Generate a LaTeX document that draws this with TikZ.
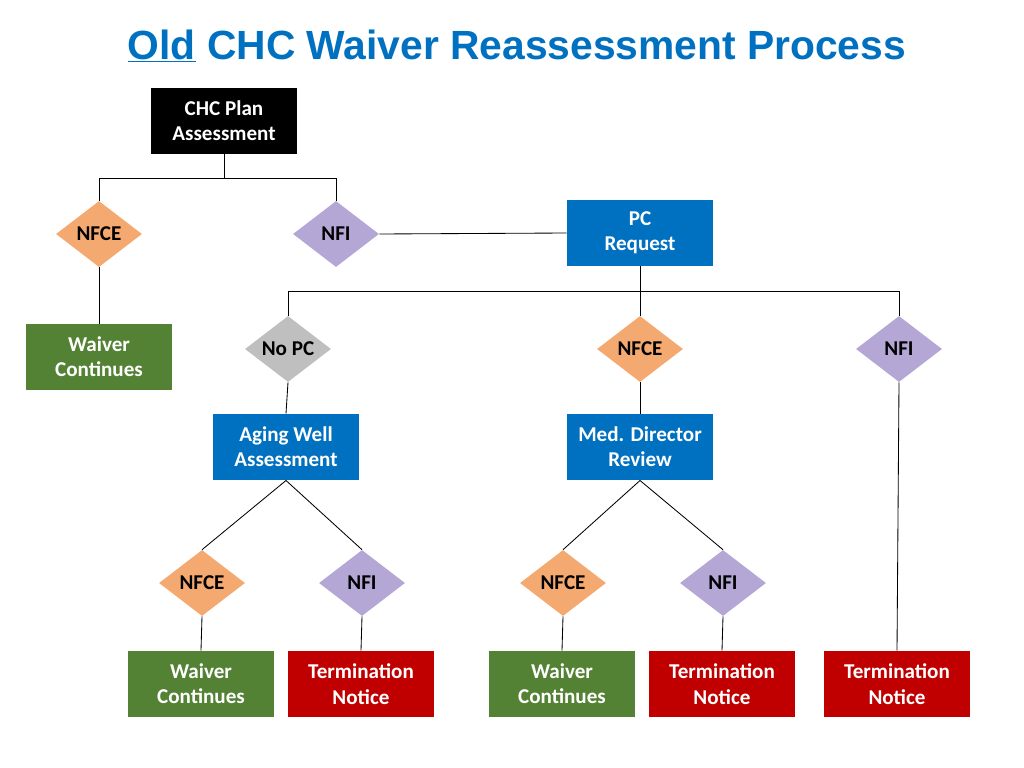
\documentclass[tikz,border=0pt]{standalone}
\usepackage{fontspec}
\setmainfont{Carlito}
\newfontfamily\titlefont{Liberation Sans}
\usetikzlibrary{shapes.geometric}
\definecolor{titleblue}{RGB}{0,112,192}
\definecolor{boxblue}{RGB}{0,112,192}
\definecolor{boxgreen}{RGB}{84,130,53}
\definecolor{boxred}{RGB}{192,0,0}
\definecolor{dorange}{RGB}{244,169,113}
\definecolor{dpurple}{RGB}{180,167,214}
\definecolor{dgray}{RGB}{191,191,191}
\tikzstyle{box}=[rectangle,minimum width=3.65cm,minimum height=1.66cm,inner sep=0pt,align=center,text=white,font=\fontsize{15}{18}\selectfont\bfseries]
\tikzstyle{choice}=[diamond,minimum width=2.15cm,minimum height=1.65cm,inner sep=0pt,aspect=1.3,font=\fontsize{15}{18}\selectfont\bfseries]
\tikzstyle{edge}=[draw,black,line width=0.6pt]
\begin{document}
\begin{tikzpicture}[x=0.025cm,y=-0.025cm]
	\useasboundingbox (0,0) rectangle (1024,768);
	\node [font=\titlefont\fontsize{29}{34}\selectfont\bfseries, text=titleblue] (title) at (517,46) {\underline{Old} CHC Waiver Reassessment Process};
	% boxes
	\node [box,fill=black] (chc) at (224,121) {CHC Plan\\Assessment};
	\node [box,fill=boxblue] (pc) at (640,233) {PC\\Request};
	\node [box,fill=boxgreen] (wc1) at (99,357) {Waiver\\Continues};
	\node [box,fill=boxblue] (aging) at (286,447) {Aging Well\\Assessment};
	\node [box,fill=boxblue] (med) at (640,447) {Med. Director\\Review};
	\node [box,fill=boxgreen] (wc2) at (201,684) {Waiver\\Continues};
	\node [box,fill=boxred] (tn1) at (361,684) {Termination\\Notice};
	\node [box,fill=boxgreen] (wc3) at (562,684) {Waiver\\Continues};
	\node [box,fill=boxred] (tn2) at (722,684) {Termination\\Notice};
	\node [box,fill=boxred] (tn3) at (897,684) {Termination\\Notice};
	% decisions
	\node [choice,fill=dorange] (nfce1) at (99,234) {NFCE};
	\node [choice,fill=dpurple] (nfi1) at (336,234) {NFI};
	\node [choice,fill=dgray] (nopc) at (288,349) {No PC};
	\node [choice,fill=dorange] (nfce2) at (640,349) {NFCE};
	\node [choice,fill=dpurple] (nfi2) at (899,349) {NFI};
	\node [choice,fill=dorange] (nfce3) at (202,583) {NFCE};
	\node [choice,fill=dpurple] (nfi3) at (362,583) {NFI};
	\node [choice,fill=dorange] (nfce4) at (563,583) {NFCE};
	\node [choice,fill=dpurple] (nfi4) at (723,583) {NFI};
	% connectors
	\coordinate (j1) at (224,178);
	\coordinate (j2) at (640,291);
	\path [edge] (chc.south) -- (j1) -| (nfce1.north);
	\path [edge] (j1) -| (nfi1.north);
	\path [edge] (nfi1.east) -- (pc.west);
	\path [edge] (nfce1.south) -- (wc1.north);
	\path [edge] (pc.south) -- (j2) -| (nopc.north);
	\path [edge] (j2) -- (nfce2.north);
	\path [edge] (j2) -| (nfi2.north);
	\path [edge] (nopc.south) -- (aging.north);
	\path [edge] (nfce2.south) -- (med.north);
	\path [edge] (nfi2.south) -- (tn3.north);
	\path [edge] (aging.south) -- (nfce3.north);
	\path [edge] (aging.south) -- (nfi3.north);
	\path [edge] (med.south) -- (nfce4.north);
	\path [edge] (med.south) -- (nfi4.north);
	\path [edge] (nfce3.south) -- (wc2.north);
	\path [edge] (nfi3.south) -- (tn1.north);
	\path [edge] (nfce4.south) -- (wc3.north);
	\path [edge] (nfi4.south) -- (tn2.north);
\end{tikzpicture}
\end{document}
